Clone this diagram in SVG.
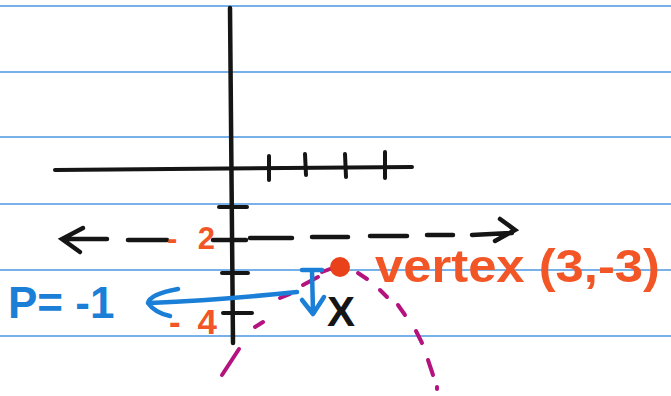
<svg xmlns="http://www.w3.org/2000/svg" width="671" height="396" viewBox="0 0 671 396">
<style>
.rule{stroke:#78b0ea;stroke-width:2.2;fill:none}
.ink{stroke:#151515;stroke-linecap:round;fill:none}
.blue{stroke:#1b7fd8;stroke-linecap:round;stroke-linejoin:round;fill:none;stroke-width:4.5}
.mag{stroke:#b4137f;stroke-linecap:round;fill:none;stroke-width:4}
.hand{font-family:"Liberation Sans","DejaVu Sans",sans-serif;font-weight:bold}
</style>
<rect width="671" height="396" fill="#ffffff"/>
<g id="ruled-lines">
<line class="rule" x1="0" y1="6" x2="671" y2="6"/>
<line class="rule" x1="0" y1="72" x2="671" y2="72"/>
<line class="rule" x1="0" y1="137" x2="671" y2="137"/>
<line class="rule" x1="0" y1="204" x2="671" y2="204"/>
<line class="rule" x1="0" y1="270" x2="671" y2="270"/>
<line class="rule" x1="0" y1="336" x2="671" y2="336"/>
</g>
<g id="axes">
<line class="ink" x1="230" y1="8" x2="233" y2="343" stroke-width="4.5"/>
<line class="ink" x1="55" y1="170" x2="412" y2="167" stroke-width="4"/>
<g stroke-width="4">
<line class="ink" x1="269" y1="156" x2="269" y2="180"/>
<line class="ink" x1="305" y1="154" x2="306" y2="175"/>
<line class="ink" x1="345" y1="154" x2="346" y2="177"/>
<line class="ink" x1="385" y1="152" x2="385" y2="178"/>
<line class="ink" x1="219" y1="207" x2="247" y2="207"/>
<line class="ink" x1="222" y1="273" x2="248" y2="273"/>
<line class="ink" x1="223" y1="313" x2="252" y2="313"/>
</g>
</g>
<g id="directrix" stroke-width="4.5">
<path class="ink" d="M83,228 L62,239 L80,252 M62,239 L107,239"/>
<line class="ink" x1="128" y1="240" x2="167" y2="240"/>
<line class="ink" x1="213" y1="240" x2="246" y2="240"/>
<line class="ink" x1="250" y1="238" x2="292" y2="238"/>
<line class="ink" x1="312" y1="237" x2="348" y2="237"/>
<line class="ink" x1="370" y1="236" x2="407" y2="236"/>
<line class="ink" x1="427" y1="235" x2="453" y2="235"/>
<path class="ink" d="M472,235 L512,233 M500,219 L515,230 L495,241"/>
</g>
<g id="parabola">
<line class="mag" x1="222" y1="375" x2="239" y2="349"/>
<line class="mag" x1="255" y1="327" x2="263" y2="322"/>
<line class="mag" x1="280" y1="298" x2="290" y2="294"/>
<line class="mag" x1="303" y1="285" x2="318" y2="277"/>
<line class="mag" x1="322" y1="272" x2="330" y2="269"/>
<line class="mag" x1="358" y1="273" x2="367" y2="279"/>
<line class="mag" x1="380" y1="290" x2="387" y2="297"/>
<line class="mag" x1="398" y1="305" x2="405" y2="315"/>
<line class="mag" x1="416" y1="331" x2="422" y2="343"/>
<line class="mag" x1="428" y1="360" x2="433" y2="375"/>
<line class="mag" x1="437" y1="387" x2="437" y2="389"/>
</g>
<g id="vertex">
<circle cx="340" cy="267" r="10" fill="#e9421b"/>
<text class="hand" x="375" y="282" font-size="46" fill="#f25626" textLength="285" lengthAdjust="spacingAndGlyphs" font-weight="normal">vertex (3,-3)</text>
</g>
<g id="p-distance">
<path class="blue" d="M302,270 L322,270 M312,270 L313,313 M302,300 L313,314 L324,297"/>
<path class="blue" d="M178,289 Q150,294 148,303 Q155,313 170,316 M150,303 Q220,300 297,292"/>
<text class="hand" x="8" y="318" font-size="44" fill="#1b7fd8">P= -1</text>
</g>
<g id="labels">
<text class="hand" x="167" y="249" font-size="31" fill="#f25626" textLength="48" lengthAdjust="spacing">-2</text>
<text class="hand" x="169" y="334" font-size="35" fill="#f25626" textLength="48" lengthAdjust="spacing">-4</text>
<text class="hand" x="327" y="326" font-size="42" fill="#151515">X</text>
</g>
</svg>
